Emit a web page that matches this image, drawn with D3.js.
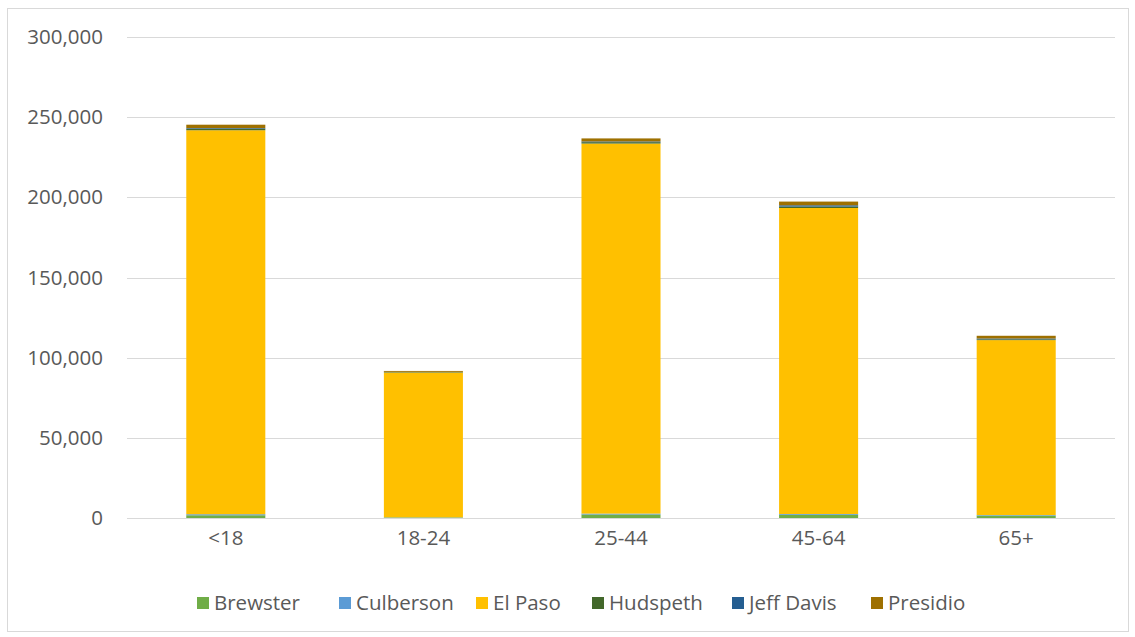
<!DOCTYPE html>
<html>
<head>
<meta charset="utf-8">
<script src="https://cdn.jsdelivr.net/npm/d3@7/dist/d3.min.js"></script>
<style>
  html, body { margin: 0; padding: 0; background: #fff; }
  svg text { font-family: "Open Sans", "Noto Sans", sans-serif; fill: #595959; }
</style>
</head>
<body>
<svg id="chart" width="1135" height="637"></svg>
<script>
// Age groups on the x axis
const ageGroups = ["<18", "18-24", "25-44", "45-64", "65+"];
// Counties, stacked bottom to top
const counties = ["Brewster", "Culberson", "El Paso", "Hudspeth", "Jeff Davis", "Presidio"];
// Population per county, one value per age group
const brewster  = [1700, 350, 2200, 2000, 1500];
const culberson = [650, 100, 550, 500, 350];
const elPaso    = [239500, 90300, 230800, 190850, 109100];
const hudspeth  = [950, 280, 850, 900, 500];
const jeffDavis = [400, 130, 450, 800, 500];
const presidio  = [2100, 550, 1900, 2300, 1700];
const yTicks = [0, 50000, 100000, 150000, 200000, 250000, 300000];
const colors = ["#70AD47", "#5B9BD5", "#FFC000", "#43682B", "#255E91", "#9E7000"];

const seriesValues = [brewster, culberson, elPaso, hudspeth, jeffDavis, presidio];
const rows = ageGroups.map((g, i) => {
  const r = { group: g };
  counties.forEach((c, k) => { r[c] = seriesValues[k][i]; });
  return r;
});

const svg = d3.select("#chart");
const W = 1135, H = 637;
const FS = 20.5;

// chart frame
svg.append("rect")
  .attr("x", 7.5).attr("y", 8.5).attr("width", W - 14).attr("height", H - 14)
  .attr("fill", "#fff").attr("stroke", "#d9d9d9").attr("stroke-width", 1);

const plot = { left: 127, right: 1115, top: 37, bottom: 518 };

const x = d3.scaleBand().domain(ageGroups)
  .range([plot.left, plot.right]).paddingInner(0.6).paddingOuter(0.3);
const y = d3.scaleLinear().domain([0, 300000]).range([plot.bottom, plot.top]);

// gridlines
svg.append("g").selectAll("line").data(yTicks).join("line")
  .attr("x1", plot.left).attr("x2", plot.right)
  .attr("y1", d => Math.round(y(d)) + 0.5).attr("y2", d => Math.round(y(d)) + 0.5)
  .attr("stroke", "#d9d9d9").attr("stroke-width", 1);

// y axis labels
const yAxis = d3.axisLeft(y).tickValues(yTicks).tickFormat(d3.format(",")).tickSize(0).tickPadding(0);
const gy = svg.append("g").attr("transform", `translate(${plot.left - 24},0)`).call(yAxis);
gy.select(".domain").remove();
gy.selectAll("text").attr("font-size", FS).style("font-family", "\"Open Sans\", sans-serif").attr("fill", "#595959");

// stacked bars
const stack = d3.stack().keys(counties)(rows);
svg.append("g").selectAll("g").data(stack).join("g")
  .attr("fill", (d, i) => colors[i])
  .selectAll("rect").data(d => d).join("rect")
  .attr("x", d => x(d.data.group))
  .attr("width", x.bandwidth())
  .attr("y", d => y(d[1]))
  .attr("height", d => y(d[0]) - y(d[1]));

// x axis
const xAxis = d3.axisBottom(x).tickSize(0).tickPadding(12);
const gx = svg.append("g").attr("transform", `translate(0,${plot.bottom})`).call(xAxis);
gx.select(".domain").attr("stroke", "#d9d9d9").attr("d", `M${plot.left},0.5H${plot.right}`);
gx.selectAll("text").attr("font-size", FS).style("font-family", "\"Open Sans\", sans-serif").attr("fill", "#595959");

// legend
const legendX = [197, 339, 476, 592, 732, 871];
const lg = svg.append("g").selectAll("g").data(counties).join("g")
  .attr("transform", (d, i) => `translate(${legendX[i]},603)`);
lg.append("rect").attr("x", 0).attr("y", -6).attr("width", 12).attr("height", 12)
  .attr("fill", (d, i) => colors[i]);
lg.append("text").attr("x", 17).attr("y", 0).attr("dy", "0.35em")
  .attr("font-size", FS).text(d => d);
</script>
</body>
</html>
